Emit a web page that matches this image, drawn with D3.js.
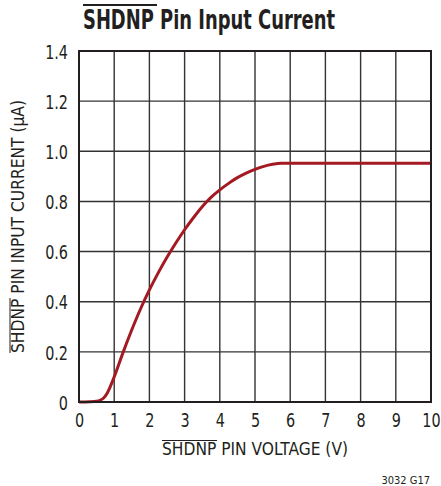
<!DOCTYPE html>
<html><head><meta charset="utf-8">
<script src="https://cdn.jsdelivr.net/npm/d3@7"></script>
<style>
body{margin:0;background:#fff;}
text{font-family:"Liberation Sans Narrow","Arial Narrow","DejaVu Sans Condensed",sans-serif;font-stretch:condensed;fill:#231f20;}
</style></head><body>
<svg id="c" width="441" height="486"></svg>
<script>
const voltage = [0, 0.3, 0.5, 0.6, 0.7, 0.8, 0.9, 1.0, 1.25, 1.5, 1.75, 2.0, 2.25, 2.5, 2.75, 3.0, 3.25, 3.5, 3.75, 4.0, 4.25, 4.5, 4.75, 5.0, 5.25, 5.5, 5.75, 6.0, 7, 8, 9, 10];
const current = [0, 0.001, 0.003, 0.007, 0.016, 0.035, 0.065, 0.10, 0.197, 0.288, 0.372, 0.447, 0.515, 0.577, 0.634, 0.687, 0.735, 0.779, 0.816, 0.846, 0.872, 0.895, 0.913, 0.928, 0.940, 0.948, 0.952, 0.952, 0.952, 0.952, 0.952, 0.952];
const xTicks = [0,1,2,3,4,5,6,7,8,9,10];
const yTicks = [0,0.2,0.4,0.6,0.8,1.0,1.2,1.4];
const yTickLabels = ["0","0.2","0.4","0.6","0.8","1.0","1.2","1.4"];

const svg = d3.select("#c");
const L=79, R=431, T=51, B=402;
const x = d3.scaleLinear().domain([0,10]).range([L,R]);
const y = d3.scaleLinear().domain([0,1.4]).range([B,T]);
const SX = 0.8;

// grid
svg.append("g").selectAll("line").data(xTicks.slice(1,-1)).join("line")
  .attr("x1",d=>x(d)).attr("x2",d=>x(d)).attr("y1",T).attr("y2",B)
  .attr("stroke","#333").attr("stroke-width",1.4);
svg.append("g").selectAll("line").data(yTicks.slice(1,-1)).join("line")
  .attr("x1",L).attr("x2",R).attr("y1",d=>y(d)).attr("y2",d=>y(d))
  .attr("stroke","#333").attr("stroke-width",1.4);

// curve
const line = d3.line().x((d,i)=>x(voltage[i])).y(d=>y(d)).curve(d3.curveMonotoneX);
svg.append("path").datum(current).attr("d",line)
  .attr("fill","none").attr("stroke","#a31a22").attr("stroke-width",3).attr("stroke-linejoin","round");

// frame
svg.append("rect").attr("x",L).attr("y",T).attr("width",R-L).attr("height",B-T)
  .attr("fill","none").attr("stroke","#231f20").attr("stroke-width",2);

// axes labels via d3 axis
const xAxis = d3.axisBottom(x).tickValues(xTicks).tickSize(0).tickFormat(d3.format("d"));
const gx = svg.append("g").attr("transform",`translate(0,${B})`).call(xAxis);
gx.select(".domain").remove();
gx.selectAll("text").attr("font-size",20).attr("font-family",null).attr("dy",null).attr("y",25)
  .attr("transform",`scale(${SX},1)`);

const yAxis = d3.axisLeft(y).tickValues(yTicks).tickSize(0).tickFormat((d,i)=>yTickLabels[i]);
const gy = svg.append("g").attr("transform",`translate(${L},0)`).call(yAxis);
gy.select(".domain").remove();
gy.selectAll("text").attr("font-size",20).attr("font-family",null).attr("x",-11/SX).attr("dy","0.36em")
  .attr("transform",`scale(${SX},1)`);

// title
svg.append("text").attr("x",83).attr("y",29).attr("font-size",26).attr("font-weight","bold")
  .attr("textLength",252).attr("lengthAdjust","spacingAndGlyphs").text("SHDNP Pin Input Current");
svg.append("line").attr("x1",83).attr("x2",157).attr("y1",5).attr("y2",5).attr("stroke","#231f20").attr("stroke-width",1.8);

// x label
svg.append("text").attr("x",162).attr("y",455).attr("font-size",17)
  .attr("textLength",186).attr("lengthAdjust","spacingAndGlyphs").text("SHDNP PIN VOLTAGE (V)");
svg.append("line").attr("x1",162).attr("x2",217).attr("y1",440.5).attr("y2",440.5).attr("stroke","#231f20").attr("stroke-width",1);

// y label
const yl = svg.append("g").attr("transform","translate(24,353) rotate(-90)");
yl.append("text").attr("x",0).attr("y",0).attr("font-size",17)
  .attr("textLength",253).attr("lengthAdjust","spacingAndGlyphs").text("SHDNP PIN INPUT CURRENT (μA)");
yl.append("line").attr("x1",0).attr("x2",55).attr("y1",-14).attr("y2",-14).attr("stroke","#231f20").attr("stroke-width",1);

// code
svg.append("text").attr("x",430).attr("y",484).attr("font-size",11).attr("text-anchor","end").text("3032 G17");
</script>
</body></html>
